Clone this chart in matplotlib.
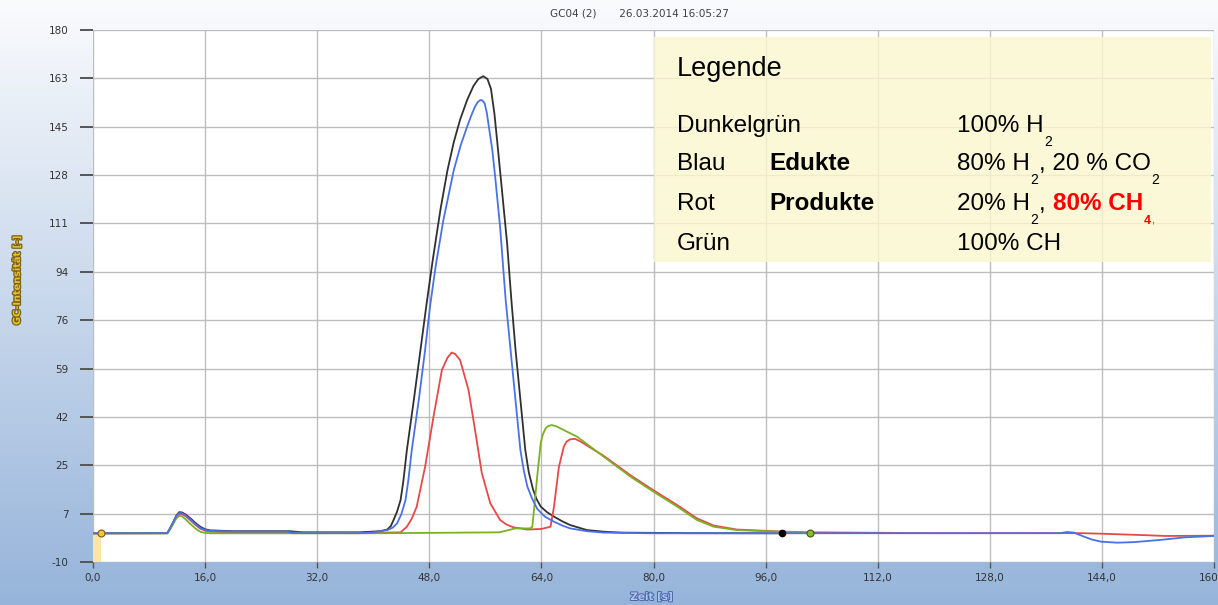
import numpy as np
import matplotlib.pyplot as plt
from matplotlib.patches import Rectangle
import matplotlib.patheffects as pe

# chromatogram traces (x = Zeit [s], y = GC-Intensität)
black_x = [0, 10.6, 11.0, 11.5, 11.9, 12.3, 12.7, 13.2, 13.9, 14.6, 15.3, 16.0, 16.7, 20, 28, 30, 38,
           41.0, 42.0, 42.5, 42.9, 43.4, 43.9, 44.3, 44.8, 45.8, 46.7, 47.6, 48.5, 49.6, 50.6, 51.5,
           52.4, 53.4, 54.3, 55.0, 55.7, 56.3, 56.8, 57.3, 57.7, 58.4, 59.1, 59.7, 60.3, 61.0, 61.7,
           62.2, 62.8, 63.3, 63.9, 64.8, 65.8, 67.0, 68.1, 70.5, 73.0, 75.3, 85, 98.4]
black_y = [0.25, 0.3, 2.0, 4.5, 6.6, 7.8, 7.7, 7.0, 5.6, 4.0, 2.6, 1.7, 1.3, 1.0, 1.0, 0.6, 0.6,
           1.0, 1.6, 2.8, 5.0, 8.0, 12.1, 19, 30, 48, 65, 82, 98, 116, 130, 140,
           148, 155, 160, 162.5, 163.5, 162.5, 159, 150, 140, 122, 104, 84, 66, 48, 30,
           22, 16, 12.5, 9.8, 7.8, 6.2, 4.5, 3.2, 1.4, 0.8, 0.5, 0.3, 0.25]

blue_x = [0, 10.6, 11.0, 11.5, 11.9, 12.3, 12.7, 13.2, 13.9, 14.6, 15.3, 16.0, 16.7, 20, 27.7, 28.5,
          38, 40, 42.0, 42.8, 43.4, 44.0, 44.6, 45.0, 45.5, 46.5, 47.4, 48.1, 48.9, 50.0, 51.5, 52.5,
          53.4, 54.0, 54.5, 54.9, 55.3, 55.6, 55.9, 56.2, 56.5, 57.0, 57.4, 58.1, 58.9, 59.6, 60.3,
          61.0, 61.5, 62.0, 62.7, 63.4, 64.5, 65.8, 67.0, 68.1, 70.5, 72.9, 80, 138, 139, 140,
          141.4, 142.6, 143.9, 146.2, 148.6, 152.4, 155.8, 160]
blue_y = [0.25, 0.3, 2.0, 4.5, 6.4, 7.5, 7.4, 6.7, 5.2, 3.6, 2.2, 1.5, 1.1, 0.9, 0.9, 0.3,
          0.3, 0.6, 1.4, 2.3, 3.8, 7.0, 12.1, 19, 30, 47.9, 65.7, 81.2, 95.5, 112, 130, 139,
          145.5, 149.5, 152.5, 154.2, 155, 154.8, 153.8, 150.5, 145.5, 137, 127.6, 109.8, 83.6, 65.7, 47.9,
          30, 22.5, 16.9, 12.5, 9.0, 6.2, 4.4, 3.0, 2.0, 1.0, 0.5, 0.25, 0.3, 0.7, 0.5,
          -0.9, -2.0, -2.75, -3.1, -2.9, -2.1, -1.2, -0.7]

red_x = [0, 10.6, 11.0, 11.5, 11.9, 12.3, 12.7, 13.2, 13.9, 14.6, 15.3, 16.0, 16.7, 20, 40, 43.9,
         44.8, 45.5, 46.2, 47.4, 48.6, 49.8, 50.6, 51.2, 51.7, 52.4, 53.6, 54.6, 55.5, 56.7, 58.1,
         59.0, 60.0, 62.0, 64.0, 65.3, 65.8, 66.5, 67.2, 67.6, 68.1, 68.8, 69.6, 72.9, 76.7, 80,
         83.4, 86.2, 88.6, 91.9, 98.1, 102.3, 120, 141, 144, 150, 153, 160]
red_y = [0.25, 0.3, 2.0, 4.3, 6.2, 7.2, 7.1, 6.4, 4.9, 3.3, 1.9, 1.2, 0.8, 0.6, 0.4, 0.6,
         2.6, 5.5, 9.75, 24, 41.9, 58.6, 63, 64.8, 64.3, 62.1, 51.4, 36, 21.7, 11, 5,
         3.4, 2.4, 1.6, 1.8, 2.6, 9.75, 24, 31.2, 33.0, 33.8, 34.0, 33.0, 27.9, 21.0, 15.6,
         10.3, 5.6, 3.0, 1.6, 0.9, 0.6, 0.3, 0.3, 0.1, -0.4, -0.7, -0.6]

green_x = [0, 10.6, 11.0, 11.5, 11.9, 12.3, 12.7, 13.2, 13.9, 14.6, 15.3, 16.0, 16.7, 20, 40, 58,
           60.3, 62.4, 62.7, 63.0, 63.4, 63.9, 64.2, 64.6, 65.0, 65.5, 66.2, 67.2, 69.1, 72.9, 76.7,
           80, 83.4, 86.2, 88.6, 91.9, 98.1, 102.3]
green_y = [0.25, 0.2, 1.6, 3.8, 5.6, 6.5, 6.3, 5.3, 3.6, 2.0, 0.8, 0.4, 0.25, 0.25, 0.25, 0.6,
           2.0, 2.0, 2.6, 10.0, 20.5, 32.4, 35.5, 37.75, 38.6, 38.9, 38.4, 37.1, 34.75, 27.6, 20.5,
           15.1, 9.75, 5.0, 2.6, 1.4, 0.8, 0.5]

y_ticks = np.linspace(-10, 180, 12)
x_ticks = np.arange(0, 161, 16)

fig = plt.figure(figsize=(12.18, 6.05), dpi=100)

# window background: white at top fading to light blue
bg = fig.add_axes([0, 0, 1, 1], zorder=-10)
top = np.array([250, 251, 253]) / 255
bot = np.array([150, 180, 218]) / 255
t = np.linspace(0, 1, 256)[:, None]
grad = top + (bot - top) * t
bg.imshow(np.repeat(grad[:, None, :], 2, axis=1), aspect='auto', extent=[0, 1, 0, 1])
bg.axis('off')

ax = fig.add_axes([93 / 1218, 43 / 605, 1121 / 1218, 532 / 605])
ax.set_facecolor('white')
ax.set_xlim(0, 160)
ax.set_ylim(-10, 180)
ax.set_xticks(x_ticks)
ax.set_xticklabels([f"{v:.1f}".replace('.', ',') for v in x_ticks])
ax.set_yticks(y_ticks)
ax.set_yticklabels([f"{v:.0f}" for v in y_ticks])
ax.grid(True, color='#bdbdbd', linewidth=1)
ax.set_axisbelow(True)
for s in ax.spines.values():
    s.set_visible(False)
ax.tick_params(axis='y', length=9.4, width=1.4, color='#555555', pad=8, labelsize=7.5, labelcolor='#333333')
ax.tick_params(axis='x', length=4, width=1, color='#555555', pad=4, labelsize=7.5, labelcolor='#333333')

# start marker band
ax.add_patch(Rectangle((0, -10), 1.1, 10.25, facecolor='#fde3a4', edgecolor='none', zorder=1))

lw = 1.3
kw = dict(lw=lw, zorder=3, solid_joinstyle='round')
ax.plot(black_x, black_y, color='#303030', **kw)
ax.plot(red_x, red_y, color='#e84848', **kw)
ax.plot(green_x, green_y, color='#7cb024', **kw)
ax.plot(blue_x, blue_y, color='#4a72e6', **kw)

ax.plot([1.1], [0.25], 'o', ms=5, mfc='#f2c83a', mec='#7a5a10', mew=0.8, zorder=5)
ax.plot([98.4], [0.25], 'o', ms=4.5, mfc='#000000', mec='#000000', zorder=5)
ax.plot([102.3], [0.5], 'o', ms=5, mfc='#8cb832', mec='#3d5a10', mew=0.8, zorder=5)

# legend box pasted onto the chart
ax.add_patch(Rectangle((80, 97.1), 79.6, 80.4, facecolor='#fbf7cf', edgecolor='none',
                       alpha=0.8, zorder=6))
fam = 'Liberation Sans'
fs = 17.5
ax.text(83.3, 163.6, 'Legende', family=fam, fontsize=19.5, zorder=7)

rows_y = [143.7, 130.0, 115.7, 101.4]
ax.text(83.3, rows_y[0], 'Dunkelgrün', family=fam, fontsize=fs, zorder=7)
ax.text(83.3, rows_y[1], 'Blau', family=fam, fontsize=fs, zorder=7)
ax.text(83.3, rows_y[2], 'Rot', family=fam, fontsize=fs, zorder=7)
ax.text(83.3, rows_y[3], 'Grün', family=fam, fontsize=fs, zorder=7)
ax.text(96.6, rows_y[1], 'Edukte', family=fam, fontsize=fs, weight='bold', zorder=7)
ax.text(96.6, rows_y[2], 'Produkte', family=fam, fontsize=fs, weight='bold', zorder=7)


def chain(prev, s, y, dx=0.5, dy=0, size=fs, **kw):
    return ax.annotate(s, xy=(1, y), xycoords=(prev, 'data'), xytext=(dx, dy),
                       textcoords='offset points', va='baseline', ha='left',
                       family=fam, fontsize=size, zorder=7, **kw)


sub = 10
dsub = -10
t1 = ax.text(123.3, rows_y[0], '100% H', family=fam, fontsize=fs, zorder=7)
chain(t1, '2', rows_y[0], dy=dsub, size=sub)

t2 = ax.text(123.3, rows_y[1], '80% H', family=fam, fontsize=fs, zorder=7)
s2 = chain(t2, '2', rows_y[1], dy=dsub, size=sub)
c2 = chain(s2, ', 20 % CO', rows_y[1])
chain(c2, '2', rows_y[1], dy=dsub, size=sub)

t3 = ax.text(123.3, rows_y[2], '20% H', family=fam, fontsize=fs, zorder=7)
s3 = chain(t3, '2', rows_y[2], dy=dsub, size=sub)
c3 = chain(s3, ',', rows_y[2])
r3 = chain(c3, '80% CH', rows_y[2], dx=5, color='#ff0000', weight='bold')
f3 = chain(r3, '4', rows_y[2], dy=dsub, size=9, color='#ff0000', weight='bold')
chain(f3, ',', rows_y[2], dx=0.3, dy=dsub, size=8, color='#ff0000')

ax.text(123.3, rows_y[3], '100% CH', family=fam, fontsize=fs, zorder=7)

# window texts
fig.text(0.525, 0.977, 'GC04 (2)       26.03.2014 16:05:27', ha='center', va='center',
         fontsize=7.5, color='#404040')
fig.text(0.014, 0.537, 'GC-Intensität [-]', rotation=90, ha='center', va='center',
         fontsize=7, weight='bold', color='#e8c030',
         path_effects=[pe.withStroke(linewidth=1.8, foreground='#7a6418')])
fig.text(0.535, 0.013, 'Zeit [s]', ha='center', va='center', fontsize=7.5, weight='bold',
         color='#b4c6ee', path_effects=[pe.withStroke(linewidth=1.4, foreground='#4866a8')])

fig.savefig('out.png', dpi=100)
